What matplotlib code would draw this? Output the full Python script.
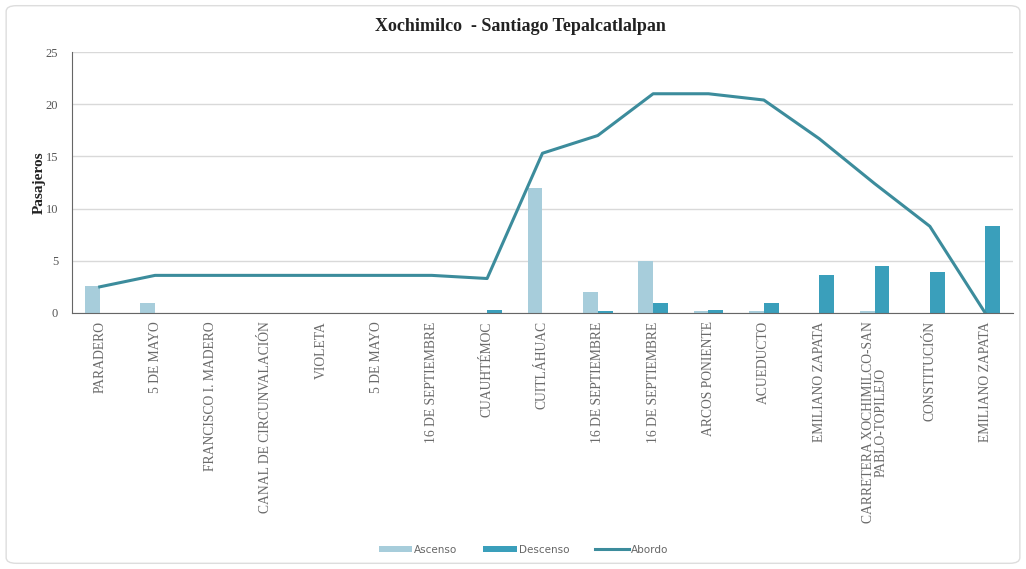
import numpy as np
import matplotlib.pyplot as plt
from matplotlib.patches import FancyBboxPatch

# Stops along the route
paradas = [
    "PARADERO", "5 DE MAYO", "FRANCISCO I. MADERO", "CANAL DE CIRCUNVALACIÓN",
    "VIOLETA", "5 DE MAYO", "16 DE SEPTIEMBRE", "CUAUHTÉMOC", "CUITLÁHUAC",
    "16 DE SEPTIEMBRE", "16 DE SEPTIEMBRE", "ARCOS PONIENTE", "ACUEDUCTO",
    "EMILIANO ZAPATA", "CARRETERA XOCHIMILCO-SAN\nPABLO-TOPILEJO",
    "CONSTITUCIÓN", "EMILIANO ZAPATA",
]
ascenso = [2.6, 1.0, 0, 0, 0, 0, 0, 0, 12.0, 2.0, 5.0, 0.2, 0.2, 0, 0.2, 0, 0]
descenso = [0, 0, 0, 0, 0, 0, 0, 0.25, 0, 0.2, 1.0, 0.3, 1.0, 3.6, 4.5, 3.9, 8.3]
abordo = [2.5, 3.6, 3.6, 3.6, 3.6, 3.6, 3.6, 3.3, 15.3, 17.0, 21.0, 21.0, 20.4,
          16.7, 12.4, 8.3, 0]

c_asc = "#a7cddb"
c_desc = "#3a9fbb"
c_line = "#3c8c9c"

fig = plt.figure(figsize=(10.26, 5.69), dpi=100)
fig.patches.append(FancyBboxPatch((0.006, 0.01), 0.988, 0.98,
                                  boxstyle="round,pad=0,rounding_size=0.01",
                                  transform=fig.transFigure, fill=False,
                                  edgecolor="#dddddd", linewidth=1))
ax = fig.add_axes([0.0702, 0.45, 0.917, 0.4586])

x = np.arange(len(paradas))
w = 0.27
ax.bar(x - w / 2, ascenso, w, color=c_asc, label="Ascenso", zorder=2)
ax.bar(x + w / 2, descenso, w, color=c_desc, label="Descenso", zorder=2)
ax.plot(x, abordo, color=c_line, linewidth=2.2, label="Abordo", zorder=3)

ax.set_xlim(-0.5, len(paradas) - 0.5)
ax.set_ylim(0, 25)
ax.set_yticks([0, 5, 10, 15, 20, 25])
ax.yaxis.grid(True, color="#d9d9d9", linewidth=1)
ax.set_axisbelow(True)
for s in ["top", "right"]:
    ax.spines[s].set_visible(False)
ax.spines["left"].set_color("#666666")
ax.spines["bottom"].set_color("#666666")
ax.tick_params(axis="both", length=0, colors="#555555")
ax.tick_params(axis="y", pad=10)
ax.tick_params(axis="x", pad=6)

ax.set_xticks(x)
ax.set_xticklabels(paradas, rotation=90, fontsize=9.8, family="Liberation Serif",
                   color="#6a6a6a", linespacing=1.0)
for lbl in ax.get_yticklabels():
    lbl.set_family("Liberation Serif")
    lbl.set_fontsize(9)

ax.set_ylabel("Pasajeros", family="Liberation Serif", fontweight="bold",
              fontsize=11, color="#222222", labelpad=0)
fig.text(0.507, 0.953, "Xochimilco  - Santiago Tepalcatlalpan",
         ha="center", va="center", family="Liberation Serif",
         fontweight="bold", fontsize=13, color="#222222")

handles, labels = ax.get_legend_handles_labels()
order = [labels.index(n) for n in ["Ascenso", "Descenso", "Abordo"]]
fig.legend([handles[i] for i in order], [labels[i] for i in order],
           loc="center", bbox_to_anchor=(0.51, 0.034), ncol=3, frameon=False,
           fontsize=7.5, labelcolor="#666666", handlelength=3.2,
           handleheight=0.5, columnspacing=2.5, handletextpad=0.2)

fig.savefig("out.png", dpi=100)
